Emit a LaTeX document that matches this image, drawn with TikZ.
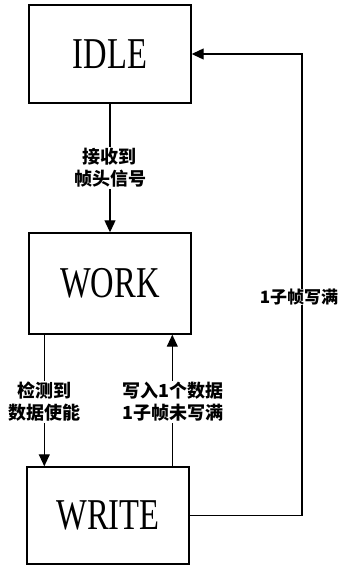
\documentclass[tikz,border=0pt]{standalone}
\usepackage{fontspec}
\setmainfont{Liberation Serif}
\newfontfamily\cjk{Noto Sans CJK SC}
\usetikzlibrary{arrows.meta}
\tikzset{
  state/.style={draw, line width=1.4pt, minimum width=162pt, inner sep=0pt, font=\fontsize{44}{44}\selectfont},
  arr/.style={line width=1.1pt, -{Triangle[length=12pt,width=11pt]}},
  lbl/.style={fill=white, inner sep=1pt, align=center, font=\cjk\bfseries\fontsize{18}{22}\selectfont}
}
\begin{document}
\begin{tikzpicture}[x=1pt,y=-1pt]
\useasboundingbox (0,0) rectangle (342,568);
\node[state, minimum height=98pt] (idle) at (110,54) {\scalebox{0.74}[1]{IDLE}};
\node[state, minimum height=101pt] (work) at (110,283.5) {\scalebox{0.74}[1]{WORK}};
\node[state, minimum height=97pt] (write) at (108,515.5) {\scalebox{0.74}[1]{WRITE}};
\draw[arr] (idle.south) -- (work.north);
\node[lbl] (l1) at (110,168) {接收到\\帧头信号};
\draw[arr] ([xshift=16pt]work.south west) -- ([xshift=18pt]write.north west);
\node[lbl] (l2) at (45,402) {检测到\\数据使能};
\draw[arr] ([xshift=146pt]write.north west) -- ([xshift=144pt]work.south west);
\node[lbl] (l3) at (173,402) {写入1个数据\\1子帧未写满};
\coordinate (c) at (302,54);
\draw[arr] (write.east) -| (c) -- (idle.east);
\node[lbl, inner sep=0pt, font=\cjk\bfseries\fontsize{17}{22}\selectfont] (l4) at (299,297) {1子帧写满};
\end{tikzpicture}
\end{document}
